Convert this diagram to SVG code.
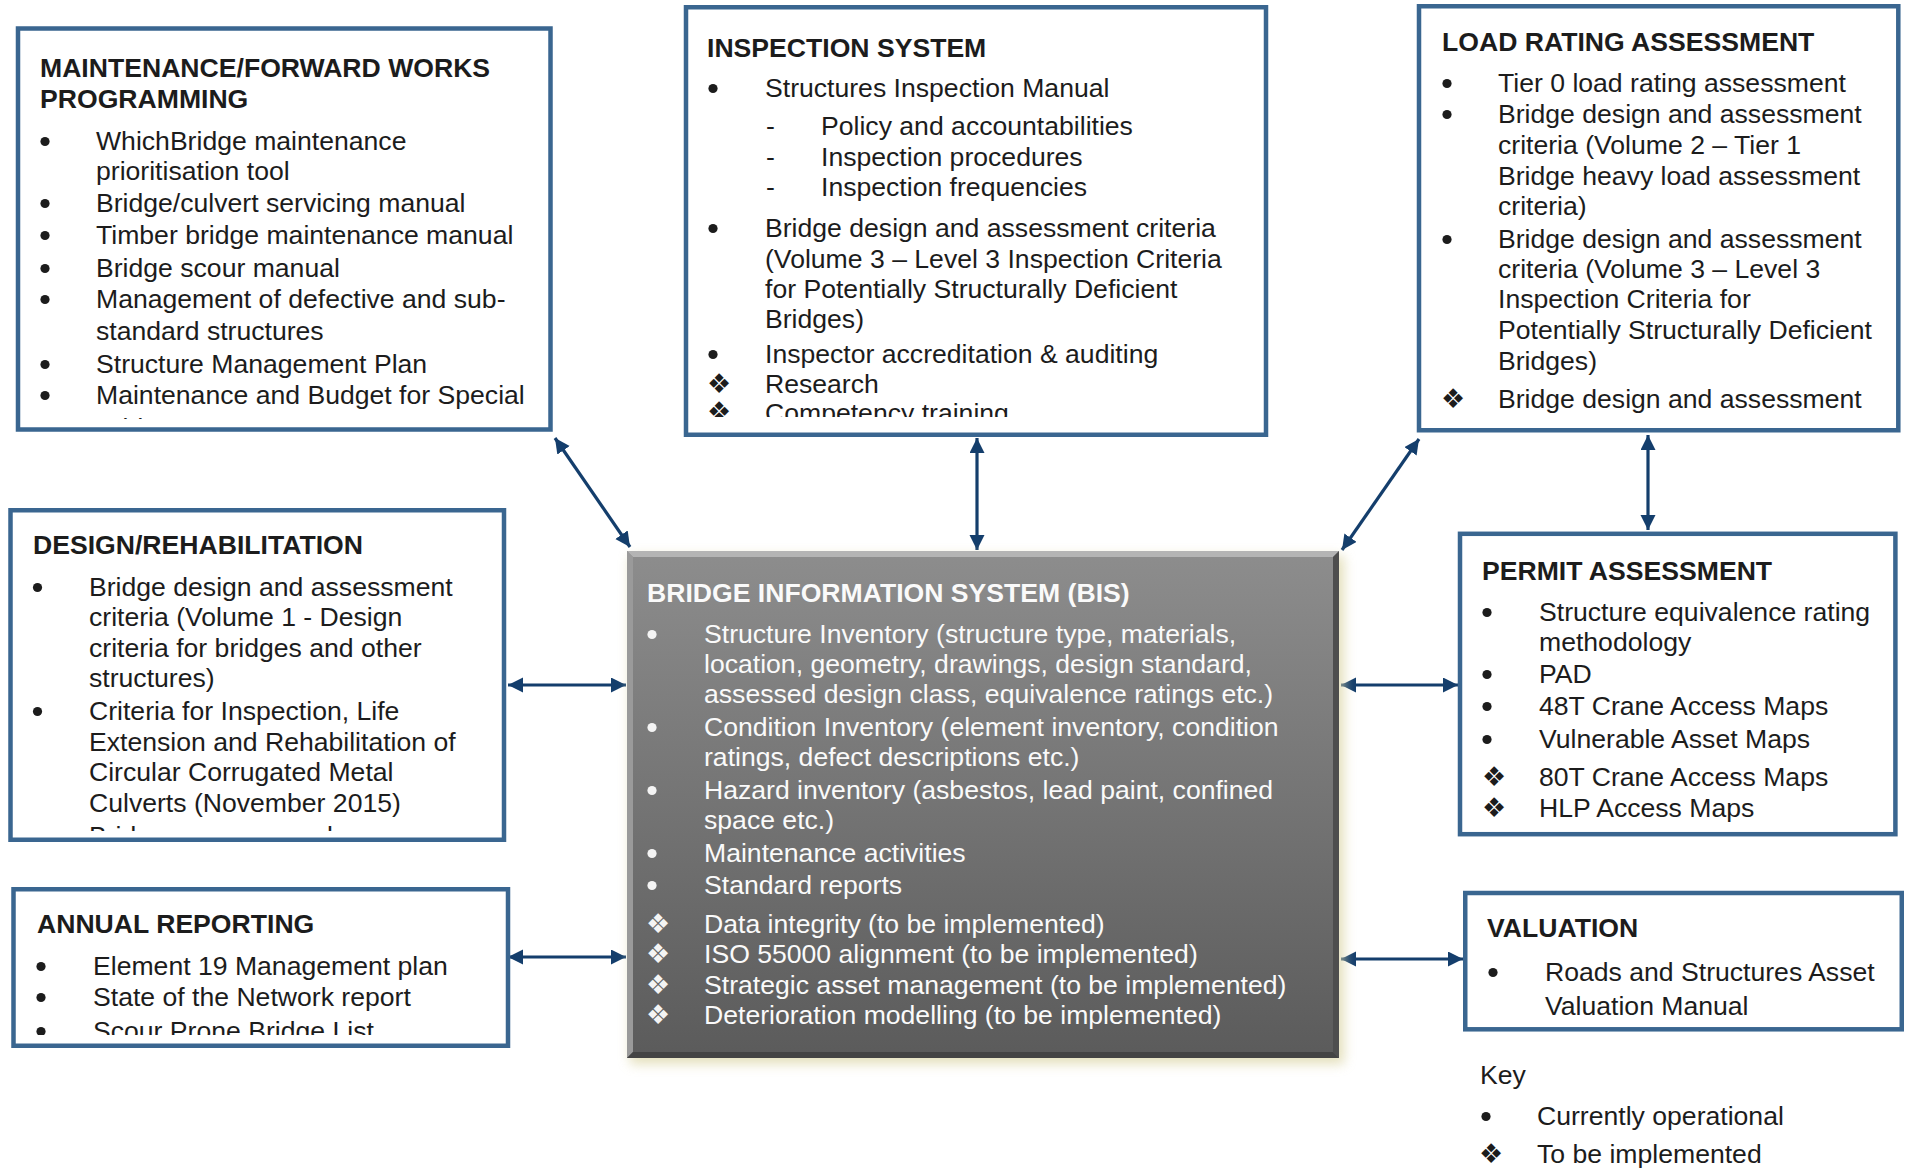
<svg xmlns="http://www.w3.org/2000/svg" width="1907" height="1168" viewBox="0 0 1907 1168">
<style>
.box{fill:#fff;stroke:#3A6690;stroke-width:4.5}
.t{font-family:"Liberation Sans",Arial,sans-serif;font-size:26.6px;fill:#1c1c1c}
.h{font-weight:bold}
.w{fill:#fafafa}
.dia{font-family:"DejaVu Sans",sans-serif;font-size:27px;fill:#1c1c1c;text-anchor:middle}
.diaw{fill:#f4f4f4}
.conn{stroke:#143E6C;stroke-width:3.2;fill:none;marker-start:url(#ah);marker-end:url(#ah)}
</style>
<defs>
<marker id="ah" markerUnits="userSpaceOnUse" markerWidth="16" markerHeight="16" refX="15" refY="7.5" orient="auto-start-reverse" viewBox="0 0 16 16">
<path d="M0,0 L15,7.5 L0,15 Z" fill="#143E6C"/>
</marker>
<circle id="bul" r="4.6" fill="#1c1c1c"/>
<circle id="bulw" r="4.6" fill="#f4f4f4"/>
<linearGradient id="bisg" x1="0" y1="0" x2="0" y2="1">
<stop offset="0" stop-color="#8d8d8d"/>
<stop offset="1" stop-color="#5b5b5b"/>
</linearGradient>
<filter id="glow" x="-10%" y="-10%" width="120%" height="120%">
<feGaussianBlur stdDeviation="6"/>
</filter>
<clipPath id="c1"><rect x="20" y="30" width="528" height="389"/></clipPath>
<clipPath id="c2"><rect x="688" y="9" width="576" height="408"/></clipPath>
<clipPath id="c4"><rect x="12" y="512" width="490" height="319"/></clipPath>
<clipPath id="c5"><rect x="15" y="891" width="490" height="144"/></clipPath>
</defs>

<g id="connectors">
<line class="conn" x1="555" y1="438" x2="630" y2="547"/>
<line class="conn" x1="977" y1="438" x2="977" y2="550"/>
<line class="conn" x1="1419" y1="439" x2="1342" y2="550"/>
<line class="conn" x1="1648" y1="435" x2="1648" y2="530"/>
<line class="conn" x1="508" y1="685" x2="626" y2="685"/>
<line class="conn" x1="508" y1="957" x2="626" y2="957"/>
<line class="conn" x1="1341" y1="685" x2="1458" y2="685"/>
<line class="conn" x1="1341" y1="959" x2="1463" y2="959"/>
</g>

<g id="maintenance">
<rect class="box" x="18" y="28.5" width="532.5" height="401"/>
<g clip-path="url(#c1)">
<text class="t h" x="40" y="77">MAINTENANCE/FORWARD WORKS</text>
<text class="t h" x="40" y="108">PROGRAMMING</text>
<use href="#bul" x="45" y="141.5"/>
<text class="t" x="96" y="150">WhichBridge maintenance</text>
<text class="t" x="96" y="180">prioritisation tool</text>
<use href="#bul" x="45" y="203.5"/>
<text class="t" x="96" y="212">Bridge/culvert servicing manual</text>
<use href="#bul" x="45" y="235.5"/>
<text class="t" x="96" y="244">Timber bridge maintenance manual</text>
<use href="#bul" x="45" y="268.5"/>
<text class="t" x="96" y="277">Bridge scour manual</text>
<use href="#bul" x="45" y="299.5"/>
<text class="t" x="96" y="308">Management of defective and sub-</text>
<text class="t" x="96" y="340">standard structures</text>
<use href="#bul" x="45" y="364.5"/>
<text class="t" x="96" y="373">Structure Management Plan</text>
<use href="#bul" x="45" y="395.5"/>
<text class="t" x="96" y="404">Maintenance and Budget for Special</text>
<text class="t" x="96" y="437">Bridges</text>
</g>
</g>

<g id="inspection">
<rect class="box" x="686" y="7.25" width="580" height="427.5"/>
<g clip-path="url(#c2)">
<text class="t h" x="707" y="57">INSPECTION SYSTEM</text>
<use href="#bul" x="713" y="88.5"/>
<text class="t" x="765" y="97">Structures Inspection Manual</text>
<text class="t" x="766" y="135">-</text>
<text class="t" x="821" y="135">Policy and accountabilities</text>
<text class="t" x="766" y="166">-</text>
<text class="t" x="821" y="166">Inspection procedures</text>
<text class="t" x="766" y="196">-</text>
<text class="t" x="821" y="196">Inspection frequencies</text>
<use href="#bul" x="713" y="228.5"/>
<text class="t" x="765" y="237">Bridge design and assessment criteria</text>
<text class="t" x="765" y="268">(Volume 3 – Level 3 Inspection Criteria</text>
<text class="t" x="765" y="298">for Potentially Structurally Deficient</text>
<text class="t" x="765" y="328">Bridges)</text>
<use href="#bul" x="713" y="354.5"/>
<text class="t" x="765" y="363">Inspector accreditation &amp; auditing</text>
<text class="dia" x="719" y="393">❖</text>
<text class="t" x="765" y="393">Research</text>
<text class="dia" x="719" y="421">❖</text>
<text class="t" x="765" y="422">Competency training</text>
</g>
</g>

<g id="load-rating">
<rect class="box" x="1419" y="6.25" width="479.3" height="424"/>
<text class="t h" x="1442" y="51">LOAD RATING ASSESSMENT</text>
<use href="#bul" x="1447" y="83.5"/>
<text class="t" x="1498" y="92">Tier 0 load rating assessment</text>
<use href="#bul" x="1447" y="114.5"/>
<text class="t" x="1498" y="123">Bridge design and assessment</text>
<text class="t" x="1498" y="154">criteria (Volume 2 – Tier 1</text>
<text class="t" x="1498" y="185">Bridge heavy load assessment</text>
<text class="t" x="1498" y="215">criteria)</text>
<use href="#bul" x="1447" y="239.5"/>
<text class="t" x="1498" y="248">Bridge design and assessment</text>
<text class="t" x="1498" y="278">criteria (Volume 3 – Level 3</text>
<text class="t" x="1498" y="308">Inspection Criteria for</text>
<text class="t" x="1498" y="339">Potentially Structurally Deficient</text>
<text class="t" x="1498" y="370">Bridges)</text>
<text class="dia" x="1453" y="408">❖</text>
<text class="t" x="1498" y="408">Bridge design and assessment</text>
</g>

<g id="design-rehabilitation">
<rect class="box" x="10.5" y="510.25" width="493.5" height="329.5"/>
<g clip-path="url(#c4)">
<text class="t h" x="33" y="554">DESIGN/REHABILITATION</text>
<use href="#bul" x="37.5" y="587.5"/>
<text class="t" x="89" y="596">Bridge design and assessment</text>
<text class="t" x="89" y="626">criteria (Volume 1 - Design</text>
<text class="t" x="89" y="657">criteria for bridges and other</text>
<text class="t" x="89" y="687">structures)</text>
<use href="#bul" x="37.5" y="711.5"/>
<text class="t" x="89" y="720">Criteria for Inspection, Life</text>
<text class="t" x="89" y="751">Extension and Rehabilitation of</text>
<text class="t" x="89" y="781">Circular Corrugated Metal</text>
<text class="t" x="89" y="812">Culverts (November 2015)</text>
<text class="t" x="89" y="845">Bridge scour manual</text>
</g>
</g>

<g id="annual-reporting">
<rect class="box" x="13.5" y="889.25" width="494.5" height="156.5"/>
<g clip-path="url(#c5)">
<text class="t h" x="37" y="933">ANNUAL REPORTING</text>
<use href="#bul" x="41" y="966.5"/>
<text class="t" x="93" y="975">Element 19 Management plan</text>
<use href="#bul" x="41" y="997.5"/>
<text class="t" x="93" y="1006">State of the Network report</text>
<use href="#bul" x="41" y="1031.5"/>
<text class="t" x="93" y="1040">Scour Prone Bridge List</text>
</g>
</g>

<g id="bis">
<rect x="630" y="556" width="714" height="508" fill="#dcd6a6" opacity="0.75" filter="url(#glow)"/>
<rect x="627" y="551" width="712" height="507" fill="url(#bisg)"/>
<polygon points="627,551 1339,551 1333,557 633,557" fill="#b4b4b4"/>
<polygon points="627,551 633,557 633,1052 627,1058" fill="#9a9a9a"/>
<polygon points="1339,551 1339,1058 1333,1052 1333,557" fill="#4e4e4e"/>
<polygon points="627,1058 1339,1058 1333,1052 633,1052" fill="#444"/>
<text class="t h w" x="647" y="602">BRIDGE INFORMATION SYSTEM (BIS)</text>
<use href="#bulw" x="652" y="634.5"/>
<text class="t w" x="704" y="643">Structure Inventory (structure type, materials,</text>
<text class="t w" x="704" y="673">location, geometry, drawings, design standard,</text>
<text class="t w" x="704" y="703">assessed design class, equivalence ratings etc.)</text>
<use href="#bulw" x="652" y="727.5"/>
<text class="t w" x="704" y="736">Condition Inventory (element inventory, condition</text>
<text class="t w" x="704" y="766">ratings, defect descriptions etc.)</text>
<use href="#bulw" x="652" y="790.5"/>
<text class="t w" x="704" y="799">Hazard inventory (asbestos, lead paint, confined</text>
<text class="t w" x="704" y="829">space etc.)</text>
<use href="#bulw" x="652" y="853.5"/>
<text class="t w" x="704" y="862">Maintenance activities</text>
<use href="#bulw" x="652" y="885.5"/>
<text class="t w" x="704" y="894">Standard reports</text>
<text class="dia diaw" x="658" y="933">❖</text>
<text class="t w" x="704" y="933">Data integrity (to be implemented)</text>
<text class="dia diaw" x="658" y="963">❖</text>
<text class="t w" x="704" y="963">ISO 55000 alignment (to be implemented)</text>
<text class="dia diaw" x="658" y="994">❖</text>
<text class="t w" x="704" y="994">Strategic asset management (to be implemented)</text>
<text class="dia diaw" x="658" y="1024">❖</text>
<text class="t w" x="704" y="1024">Deterioration modelling (to be implemented)</text>
</g>

<g id="permit-assessment">
<rect class="box" x="1460" y="533.8" width="435.4" height="300.4"/>
<text class="t h" x="1482" y="580">PERMIT ASSESSMENT</text>
<use href="#bul" x="1487" y="612.5"/>
<text class="t" x="1539" y="621">Structure equivalence rating</text>
<text class="t" x="1539" y="651">methodology</text>
<use href="#bul" x="1487" y="674.5"/>
<text class="t" x="1539" y="683">PAD</text>
<use href="#bul" x="1487" y="706.5"/>
<text class="t" x="1539" y="715">48T Crane Access Maps</text>
<use href="#bul" x="1487" y="739.5"/>
<text class="t" x="1539" y="748">Vulnerable Asset Maps</text>
<text class="dia" x="1494" y="786">❖</text>
<text class="t" x="1539" y="786">80T Crane Access Maps</text>
<text class="dia" x="1494" y="817">❖</text>
<text class="t" x="1539" y="817">HLP Access Maps</text>
</g>

<g id="valuation">
<rect class="box" x="1465.25" y="893" width="436.5" height="136.3"/>
<text class="t h" x="1487" y="937">VALUATION</text>
<use href="#bul" x="1493" y="972.5"/>
<text class="t" x="1545" y="981">Roads and Structures Asset</text>
<text class="t" x="1545" y="1015">Valuation Manual</text>
</g>

<g id="key">
<text class="t" x="1480" y="1084">Key</text>
<use href="#bul" x="1486" y="1116.5"/>
<text class="t" x="1537" y="1125">Currently operational</text>
<text class="dia" x="1491" y="1163">❖</text>
<text class="t" x="1537" y="1163">To be implemented</text>
</g>
</svg>
